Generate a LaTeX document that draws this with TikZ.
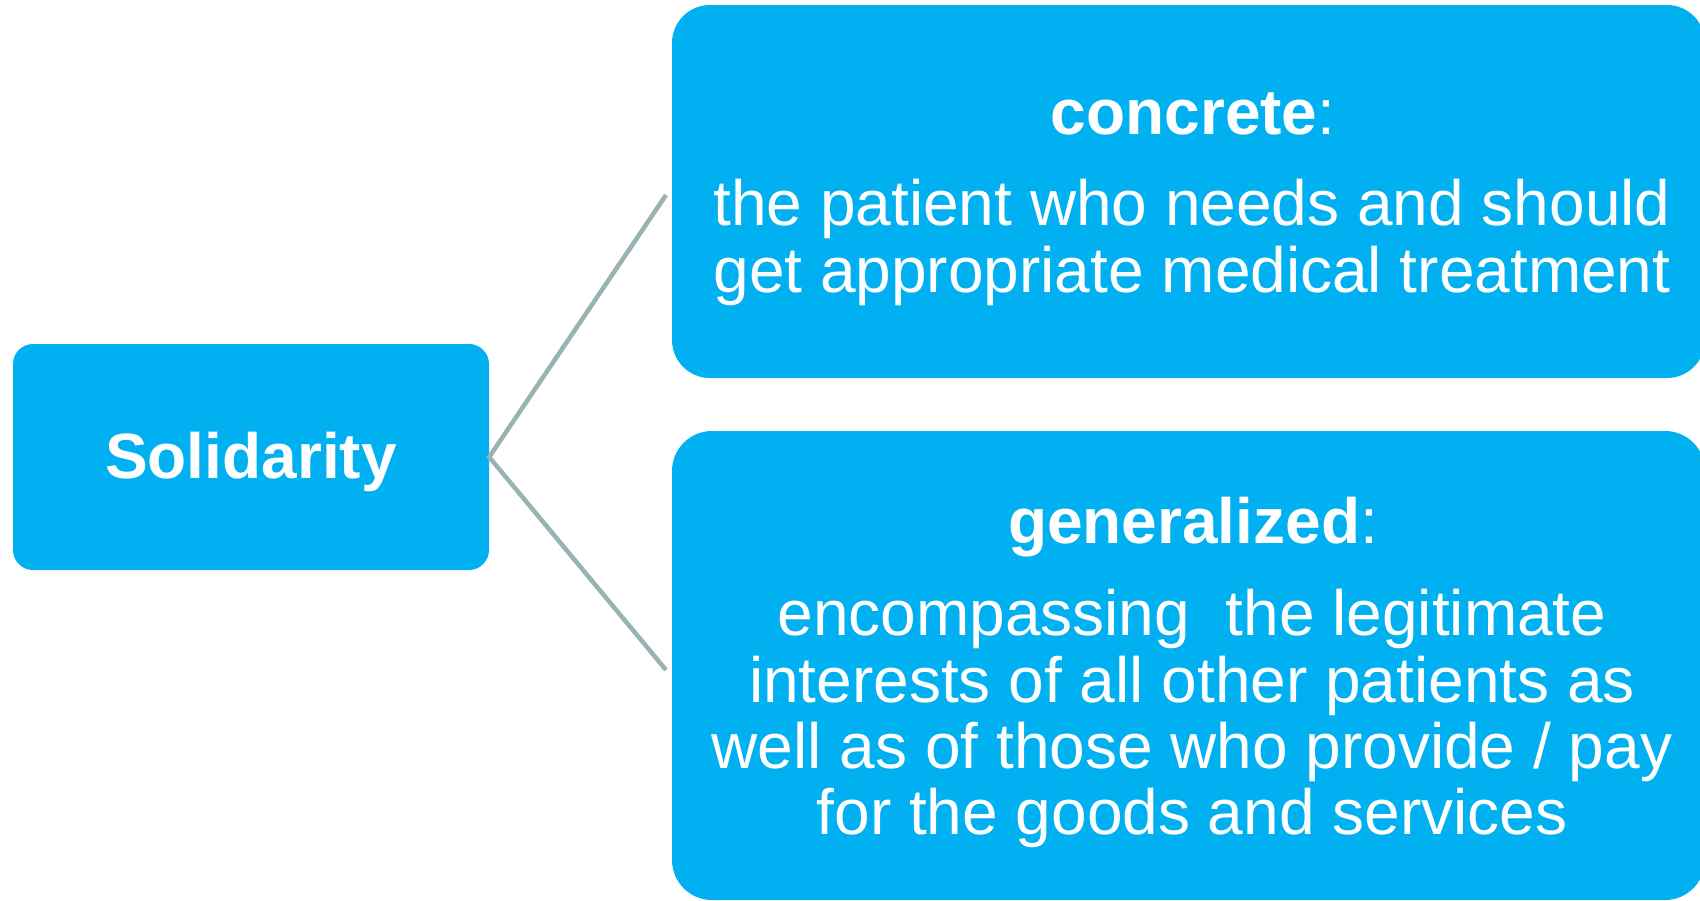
\documentclass[tikz,border=0pt]{standalone}
\usepackage{fontspec}
\setmainfont{Liberation Sans}
\definecolor{boxblue}{HTML}{00B0F0}
\definecolor{linkgray}{RGB}{155,178,178}
\begin{document}
\begin{tikzpicture}[x=1pt,y=-1pt,
  box/.style={fill=boxblue,draw=none,inner sep=0pt},
  txt/.style={text=white,anchor=base,inner sep=0pt,font=\fontsize{64}{66}\selectfont},
  link/.style={draw=linkgray,line width=4.5pt}]
\useasboundingbox (0,0) rectangle (1700,900);
% boxes
\node[box,rounded corners=20pt,minimum width=476pt,minimum height=226pt] (solid) at (251,457) {};
\node[box,rounded corners=38pt,minimum width=1033pt,minimum height=373pt] (conc) at (1188.5,191.5) {};
\node[box,rounded corners=40pt,minimum width=1033pt,minimum height=469pt] (gen) at (1188.5,665.5) {};
% connectors
\coordinate (ct) at (666,195);
\coordinate (cb) at (666,670);
\draw[link] (ct) -- (solid.east) -- (cb);
% texts
\node[txt] (t0) at (251,478) {\textbf{Solidarity}};
\node[txt] (t1) at (1193,134) {\textbf{concrete}:};
\node[txt] (t2) at (1192,225) {the patient who needs and should};
\node[txt] (t3) at (1192,292) {get appropriate medical treatment};
\node[txt] (t4) at (1193,543) {\textbf{generalized}:};
\node[txt] (t5) at (1192,635) {encompassing\ \ the legitimate};
\node[txt] (t6) at (1192,702) {interests of all other patients as};
\node[txt] (t7) at (1192,768) {well as of those who provide / pay};
\node[txt] (t8) at (1192,834) {for the goods and services};
\end{tikzpicture}
\end{document}
